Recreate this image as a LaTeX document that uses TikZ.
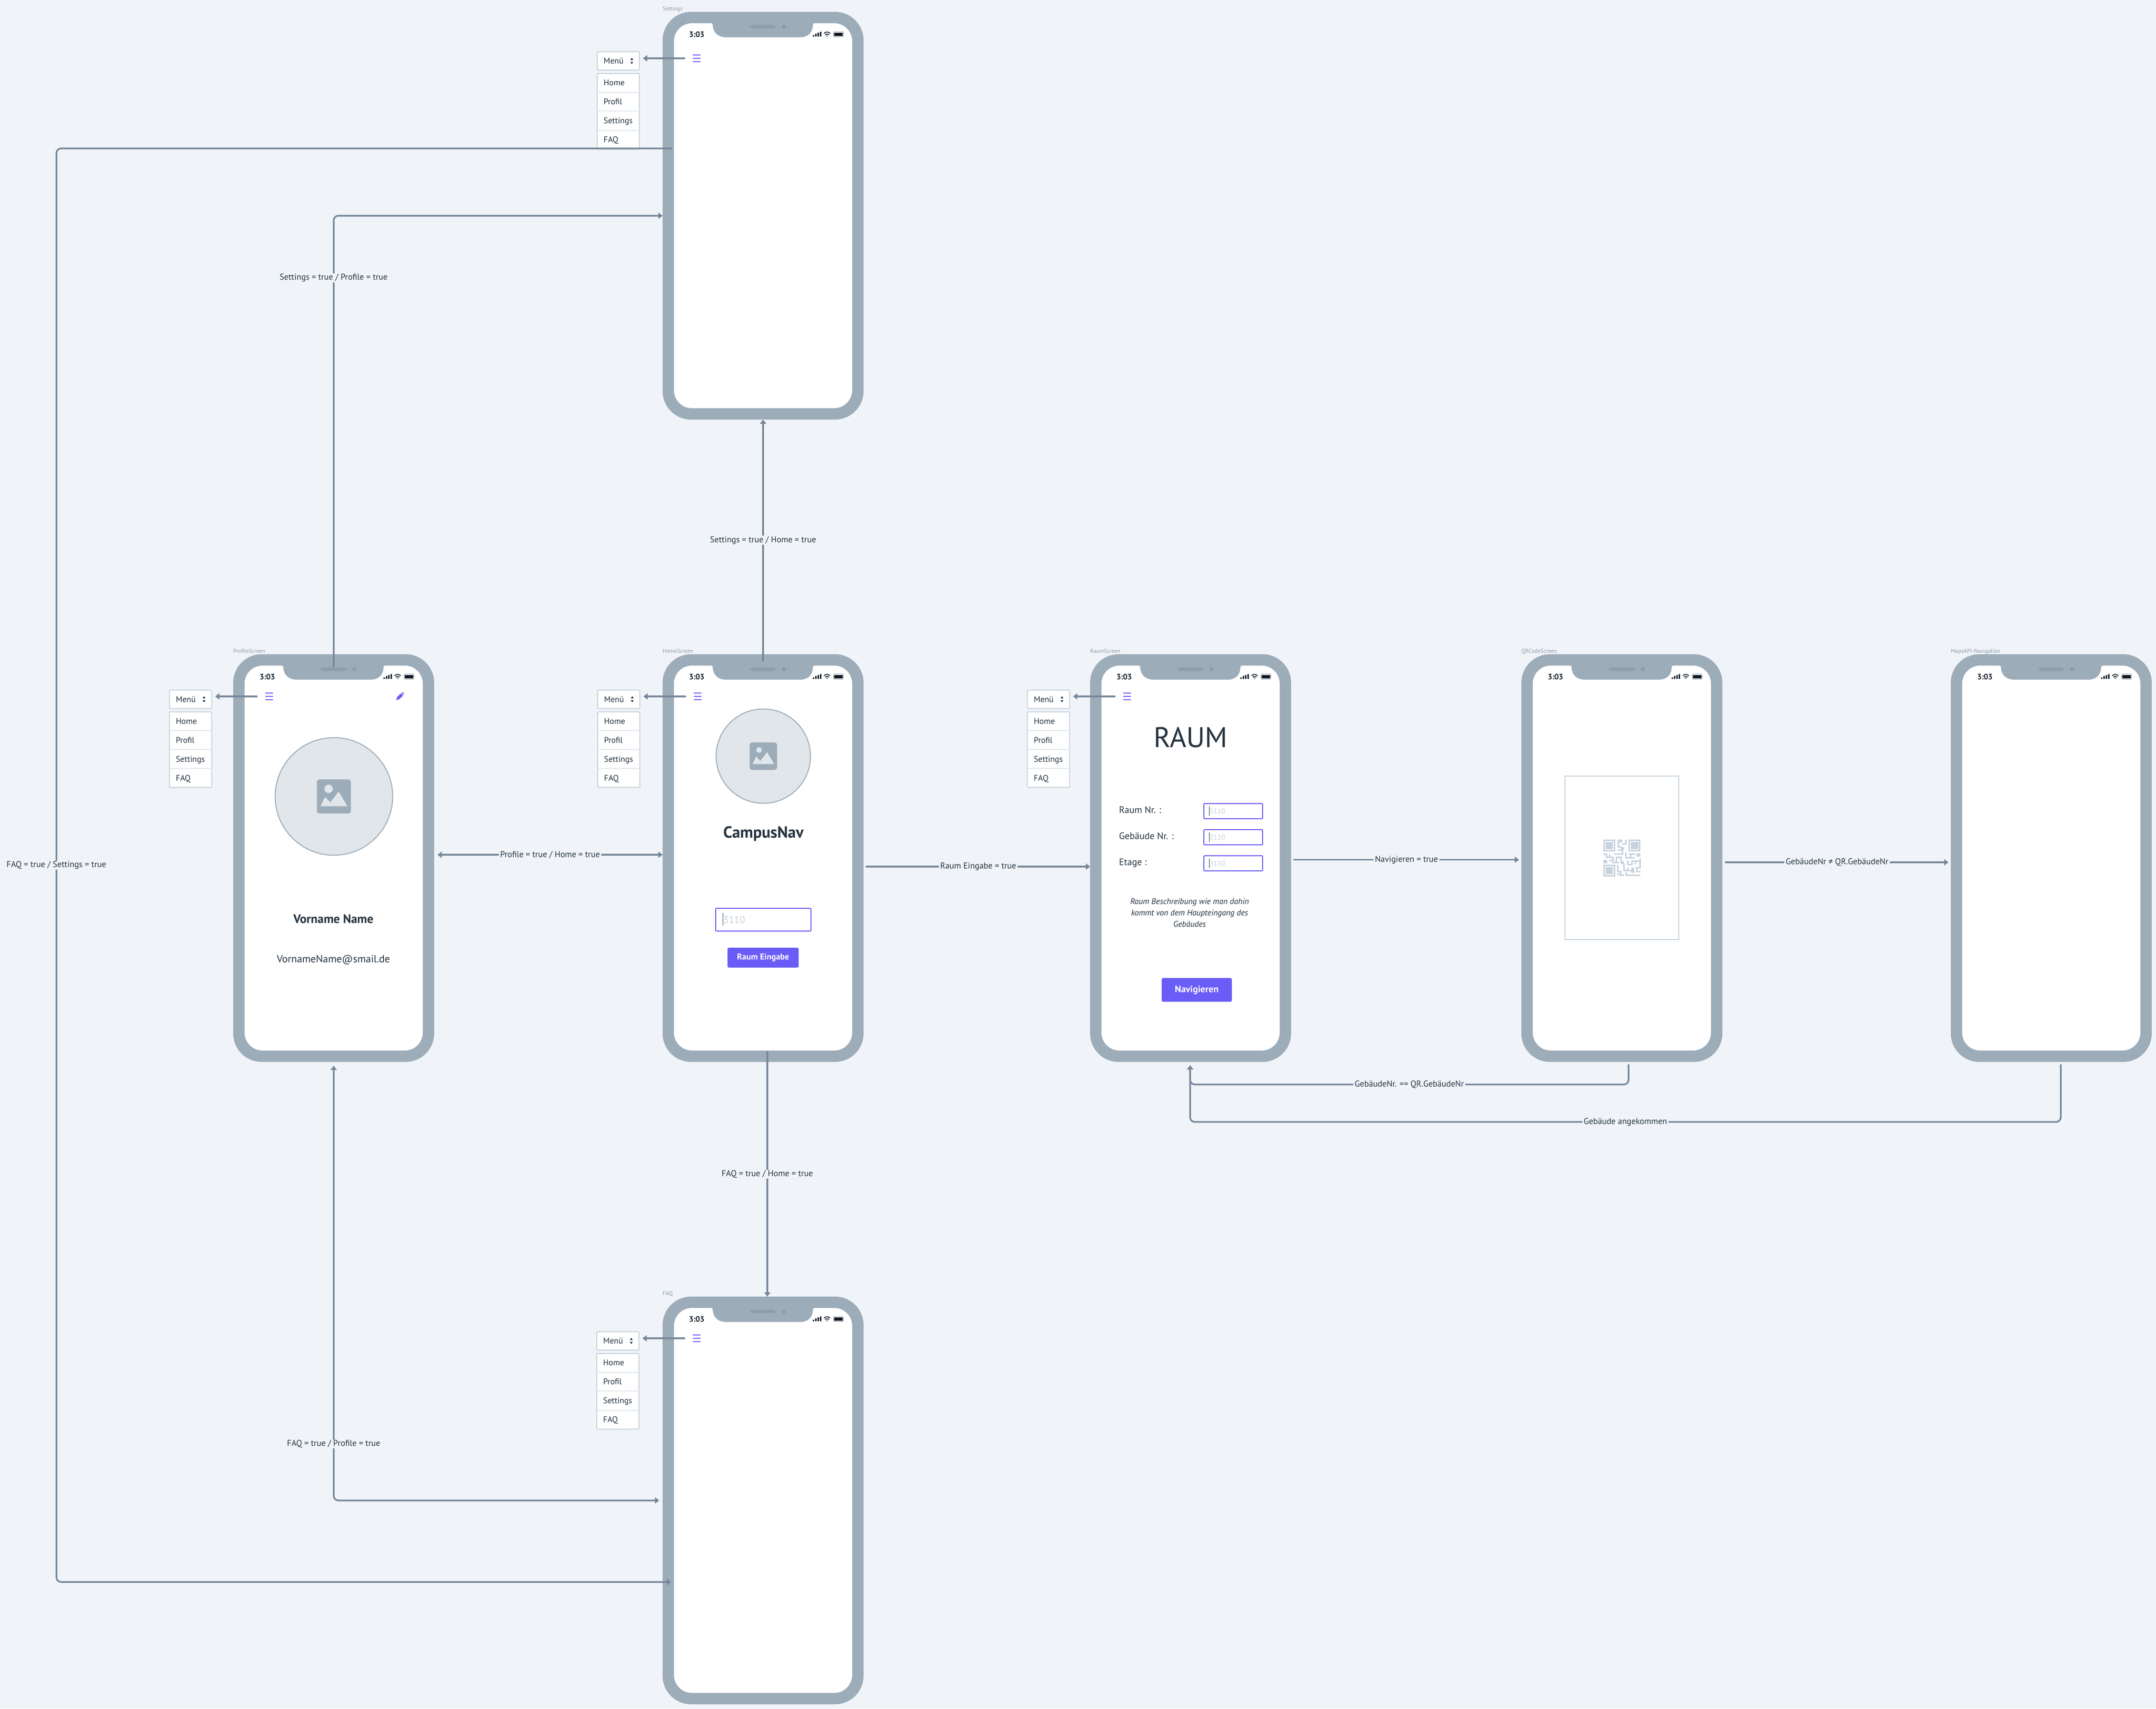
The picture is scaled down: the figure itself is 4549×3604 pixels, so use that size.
\documentclass[tikz,border=0pt]{standalone}
\usepackage{fontspec}
\setmainfont{PT Sans}
\usetikzlibrary{arrows.meta, positioning}

\definecolor{pagebg}{HTML}{F0F4F8}
\definecolor{bezel}{HTML}{9DACB9}
\definecolor{speaker}{HTML}{8D9DAB}
\definecolor{flowline}{HTML}{76879A}
\definecolor{ink}{HTML}{243240}
\definecolor{statusink}{HTML}{111A24}
\definecolor{titleink}{HTML}{8B99A6}
\definecolor{violet}{HTML}{6A5CF6}
\definecolor{soft}{HTML}{C6D2DD}
\definecolor{softer}{HTML}{E1E7EF}
\definecolor{photo}{HTML}{E1E6EA}

\begin{document}
\begin{tikzpicture}[x=1pt, y=-1pt, >={Triangle[length=9pt,width=13pt]}]
	\tikzstyle{phone} = [rectangle, fill=bezel, rounded corners=60pt, minimum width=424pt, minimum height=860pt, inner sep=0pt, outer sep=0pt, anchor=north west]
	\tikzstyle{screen} = [rectangle, fill=white, rounded corners=38pt, minimum width=376pt, minimum height=812pt, inner sep=0pt, outer sep=0pt]
	\tikzstyle{phonetitle} = [anchor=base west, inner sep=0pt, text=titleink, font=\fontsize{12}{14}\selectfont]
	\tikzstyle{statustext} = [anchor=center, inner sep=0pt, text=statusink, font=\fontsize{16.5}{18}\selectfont\bfseries]
	\tikzstyle{menubox} = [rectangle, draw=soft, fill=white, line width=2pt, rounded corners=2pt, minimum width=89pt, inner sep=0pt, outer sep=0pt, anchor=north west]
	\tikzstyle{menutext} = [anchor=base west, inner sep=0pt, text=ink, font=\fontsize{17.5}{20}\selectfont]
	\tikzstyle{burger} = [rectangle, minimum width=16pt, minimum height=14pt, inner sep=0pt, outer sep=0pt]
	\tikzstyle{flow} = [->, draw=flowline, line width=3.5pt, rounded corners=10pt]
	\tikzstyle{edgetext} = [fill=pagebg, text=ink, inner xsep=3pt, inner ysep=1pt, font=\fontsize{18}{20}\selectfont]
	\tikzstyle{inputbox} = [rectangle, draw=violet, fill=white, line width=2pt, rounded corners=2pt, inner sep=0pt, outer sep=0pt]
	\tikzstyle{button} = [rectangle, fill=violet, text=white, rounded corners=3pt, inner sep=0pt, outer sep=0pt]
	\tikzstyle{photocircle} = [circle, draw=bezel, fill=photo, line width=2pt, inner sep=0pt, outer sep=0pt]
	\tikzstyle{plain} = [inner sep=0pt, text=ink]

	\useasboundingbox (0,0) rectangle (4549,3604);
	\fill[pagebg] (0,0) rectangle (4549,3604);

	% phones
	\foreach \nm/\px/\py/\ttl in {settings/1398/25/Settings, home/1398/1380/HomeScreen, profile/492/1380/ProfileScreen, raum/2300/1380/RaumScreen, qr/3210/1380/QRCodeScreen, maps/4116/1380/MapsAPI-Navigation, faq/1398/2735/FAQ} {
		\node[phone] (\nm) at (\px,\py) {};
		\node[screen] (\nm-screen) at (\nm.center) {};
		\begin{scope}[shift={(\px,\py)}]
			\node[phonetitle] (\nm-title) at (0,-3) {\ttl};
			\fill[bezel] (102,24) .. controls (105,24) and (106,25) .. (106,28) .. controls (106,44) and (118,53.7) .. (134,53.7)
				-- (290,53.7) .. controls (306,53.7) and (317,44) .. (317,28) .. controls (317,25) and (318,24) .. (321,24) -- cycle;
			\fill[speaker, rounded corners=3.5pt] (185,28) rectangle (238,35);
			\fill[speaker] (256,31.5) circle[radius=4.5pt];
			\node[statustext] (\nm-time) at (72,47.7) {3:03};
			\foreach \bx/\bh in {317/3.5, 322/6, 327/8.5, 332/10.5}
				\fill[statusink] (\bx,52) rectangle (\bx+3,52-\bh);
			\draw[statusink, line width=1.7pt] (340.5,45.5) .. controls (344,41.5) and (350,41.5) .. (353.5,45.5);
			\draw[statusink, line width=1.7pt] (343,48.5) .. controls (345,46.3) and (349,46.3) .. (351,48.5);
			\fill[statusink] (347,51) circle[radius=1.4pt];
			\draw[titleink, fill=white, line width=.8pt, rounded corners=1.5pt] (360.5,41.8) rectangle (381.5,52.6);
			\fill[statusink] (362.3,43.6) rectangle (379.7,50.8);
		\end{scope}
	}

	% menus next to the phones
	\foreach \nm/\mx/\my/\bx/\by in {settings/1259/108/1470/123, home/1260/1454.5/1472/1469, profile/356.5/1454.5/568/1469, raum/2166.7/1454.5/2378/1469, faq/1258/2808/1470/2823} {
		\node[burger] (\nm-burger) at (\bx,\by) {};
		\foreach \dy in {-6.7,0,6.7}
			\draw[violet, line width=2pt] (\bx-8,\by+\dy) -- (\bx+8,\by+\dy);
		\node[menubox, minimum height=39pt] (\nm-menu) at (\mx+1,\my+1) {};
		\node[menutext] (\nm-menutext) at (\mx+14.5,\my+26.5) {Menü};
		\fill[ink] (\mx+71,\my+18.5) -- (\mx+77,\my+18.5) -- (\mx+74,\my+14) -- cycle;
		\fill[ink] (\mx+71,\my+22.5) -- (\mx+77,\my+22.5) -- (\mx+74,\my+27) -- cycle;
		\node[menubox, minimum height=159.5pt, below=7pt of \nm-menu.south west, anchor=north west] (\nm-list) {};
		\foreach \dy in {40.7, 80.4, 120.7}
			\draw[softer, line width=2pt] ([yshift=1pt]\nm-list.north west) ++(0,\dy) -- ++(89,0);
		\foreach \dy/\item in {26.9/Home, 66.6/Profil, 106.9/Settings, 146.6/FAQ}
			\node[menutext] (\nm-\item) at ([xshift=13.5pt,yshift=1pt]\nm-list.north west) [yshift=-\dy pt] {\item};
	}

	% profile screen
	\foreach \cname/\cx/\cy/\cr/\cs in {profile-photo/704.5/1680/124/1.24, home-photo/1610.5/1595/99.5/1} {
		\node[photocircle, minimum size=2*\cr pt] (\cname) at (\cx,\cy) {};
		\begin{scope}[shift={(\cx,\cy)}, scale=\cs]
			\fill[bezel, rounded corners=6pt] (-29,-29) rectangle (29,29);
			\fill[photo] (-9,-13) circle[radius=5.8*\cs pt];
			\fill[photo] (-23,16.7) -- (-15,1) -- (-6,10) -- (8,-8.3) -- (23,16.7) -- cycle;
		\end{scope}
	}
	\fill[violet] (836,1477) -- (838,1470) -- (846,1462.5) -- (850.5,1467) -- (843,1474.5) -- cycle;
	\fill[violet] (847.5,1461.5) -- (849.5,1460) -- (852.5,1463) -- (851,1465.5) -- cycle;
	\node[plain, font=\fontsize{26}{30}\selectfont\bfseries] (profile-name) at (703.5,1938) {Vorname Name};
	\node[plain, font=\fontsize{22}{26}\selectfont] (profile-mail) at (703.5,2025) {VornameName@smail.de};

	% home screen
	\node[plain, anchor=base, font=\fontsize{34}{38}\selectfont\bfseries] (home-app) at (1610.8,1767) {CampusNav};
	\node[inputbox, minimum width=201pt, minimum height=48pt] (home-input) at (1610.5,1940) {};
	\node[anchor=base west, inner sep=0pt, text=soft, font=\fontsize{21}{24}\selectfont] (home-hint) at (1526,1947) {3110};
	\draw[ink, line width=1pt] (1525,1926) -- (1525,1952);
	\node[button, minimum width=150pt, minimum height=42pt, font=\fontsize{18}{20}\selectfont\bfseries] (home-button) at (1610,2020) {Raum Eingabe};

	% raum screen
	\node[plain, anchor=base, font=\fontsize{60}{64}\selectfont] (raum-head) at (2512,1576) {RAUM};
	\foreach \rname/\ry/\rtext in {nr/1711/Raum Nr. :, bau/1766/Gebäude Nr. :, etage/1821/Etage :} {
		\node[plain, anchor=base west, font=\fontsize{20}{24}\selectfont] (raum-\rname-label) at (2361,\ry+4.5) {\rtext};
		\node[inputbox, minimum width=124pt, minimum height=32pt] (raum-\rname) at (2602,\ry) {};
		\node[anchor=base west, inner sep=0pt, text=soft, font=\fontsize{15}{18}\selectfont] (raum-\rname-hint) at (2552,\ry+5) {3110};
		\draw[ink, line width=1pt] (2551,\ry-10) -- (2551,\ry+10);
	}
	\node[plain, align=center, font=\fontsize{17.5}{24}\selectfont\itshape] (raum-text) at (2510,1925) {Raum Beschreibung wie man dahin\\kommt von dem Haupteingang des\\Gebäudes};
	\node[button, minimum width=148pt, minimum height=50pt, font=\fontsize{20}{22}\selectfont\bfseries] (raum-button) at (2525,2088) {Navigieren};

	% qr screen
	\node[rectangle, draw=soft, fill=white, line width=2pt, minimum width=240pt, minimum height=345pt, inner sep=0pt] (qr-frame) at (3422,1809.5) {};
	\begin{scope}[shift={(3280,1620)}, x=.3333pt, y=-.3333pt, draw=soft, fill=soft, line width=3pt]
		\foreach \qx/\qy in {309/453, 469/453, 309/611} {
			\draw[fill=none] (\qx+4.5,\qy+4.5) rectangle (\qx+70,\qy+71);
			\fill[soft] (\qx+15,\qy+15) rectangle (\qx+61,\qy+61);
		}
		\foreach \qa/\qb/\qc/\qd in {400/453/428/470, 420/500/440/516, 520/540/543/562, 309/581/332/604, 420/590/438/610, 487/630/504/662}
			\fill[soft] (\qa,\qb) rectangle (\qc,\qd);
		\draw (404,453) -- (404,500) -- (425,500);
		\draw (425,480) -- (452,480) -- (452,453);
		\draw (400,520) -- (430,520) -- (430,543) -- (378,543);
		\draw (452,532) -- (452,568) -- (508,568);
		\draw (470,545) -- (510,545);
		\draw (482,545) -- (482,565);
		\draw (309,543) -- (328,543) -- (328,565) -- (370,565) -- (370,598) -- (408,598);
		\draw (350,545) -- (350,565);
		\draw (345,585) -- (370,585);
		\draw (392,600) -- (392,565) -- (422,565) -- (422,600);
		\draw (440,605) -- (440,650) -- (500,650);
		\draw (463,630) -- (463,650);
		\draw (463,585) -- (463,610) -- (490,610) -- (490,590) -- (540,590);
		\draw (512,590) -- (512,610);
		\draw (540,572) -- (540,632) -- (520,632) -- (520,655) -- (543,655);
		\draw (400,615) -- (400,655) -- (418,655) -- (418,678) -- (440,678);
		\draw (396,672) -- (415,672);
		\draw (455,660) -- (455,680) -- (543,680);
	\end{scope}

	% burger to menu
	\foreach \nm in {settings, home, profile, raum, faq}
		\draw[flow, line cap=round] ([xshift=-18pt]\nm-burger.west) -- ([xshift=7.5pt]\nm-burger.west -| \nm-menu.east);

	% screen flow
	\draw[flow, line cap=round] ([yshift=-14pt]home.north) -- node[edgetext] (e1) {Settings = true / Home = true} (settings.south);
	\draw[flow, line cap=round] ([xshift=9pt,yshift=21pt]home.south) -- node[edgetext] (e2) {FAQ = true / Home = true} ([xshift=9pt]faq.north);
	\draw[flow, <->] ([xshift=7pt,yshift=7pt]profile.east) -- node[edgetext] (e3) {Profile = true / Home = true} ([yshift=7pt]home.west);
	\draw[flow, line cap=round] ([xshift=6pt,yshift=-18pt]home.east) -- node[edgetext] (e4) {Raum Eingabe = true} ([yshift=-18pt]raum.west);
	\draw[flow, line cap=round] ([xshift=6pt,yshift=-3.5pt]raum.east) -- node[edgetext] (e5) {Navigieren = true} ([xshift=-5pt,yshift=-3.5pt]qr.west);
	\draw[flow, line cap=round] ([xshift=7pt,yshift=-9pt]qr.east) -- node[edgetext] (e6) {GebäudeNr ≠ QR.GebäudeNr} ([xshift=-5pt,yshift=-9pt]maps.west);
	\draw[flow, line cap=round] ([xshift=14pt,yshift=-6pt]qr.south) -- ++(0,41.7) -- node[edgetext] (e7) {GebäudeNr. == QR.GebäudeNr} ++(-925,0) -- ([xshift=-1pt,yshift=-7pt]raum.south);
	\draw[flow, line cap=round] ([xshift=20pt,yshift=-6pt]maps.south) -- ++(0,120.7) -- node[edgetext] (e8) {Gebäude angekommen} ++(-1837,0) -- ([xshift=-1pt,yshift=-7pt]raum.south);
	\draw[flow, line cap=round] ([yshift=-26pt]profile.north) -- node[edgetext, pos=.862] (e9) {Settings = true / Profile = true} ++(0,-951) -- (settings.west);
	\draw[flow, <->] ([yshift=-8pt]profile.south) -- node[edgetext, pos=.87] (e10) {FAQ = true / Profile = true} ++(0,917) -- ([xshift=-7pt]faq.west);
	\draw[flow, line cap=round] ([xshift=19pt,yshift=142pt]settings.west) -- ++(-1298,0) -- node[edgetext] (e11) {FAQ = true / Settings = true} ++(0,3024) -- ([xshift=18pt,yshift=-172pt]faq.west);
\end{tikzpicture}
\end{document}
